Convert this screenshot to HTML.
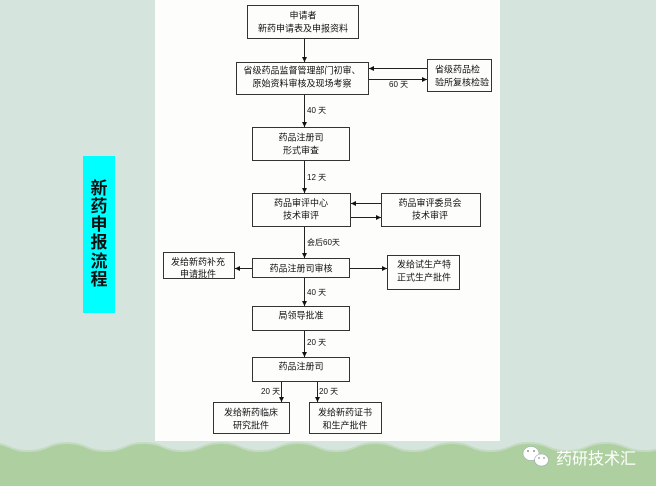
<!DOCTYPE html>
<html><head><meta charset="utf-8">
<style>
html,body{margin:0;padding:0;width:656px;height:486px;overflow:hidden;}
body{background:#d6e4de;}
svg{display:block;}
text{font-family:"Liberation Sans","Noto Sans CJK SC",sans-serif;fill:#111;}
.b{fill:none;stroke:#333;stroke-width:1;}
.l{stroke:#222;stroke-width:1;fill:none;}
.t{font-size:9px;}
.s{font-size:8px;}
</style></head>
<body>
<svg width="656" height="486" viewBox="0 0 656 486" xmlns="http://www.w3.org/2000/svg">
<defs>
<marker id="a" markerWidth="6" markerHeight="6" refX="5" refY="3" orient="auto" markerUnits="userSpaceOnUse">
<path d="M0,0.5 L5,3 L0,5.5 Z" fill="#111"/>
</marker>
</defs>
<rect width="656" height="486" fill="#d6e4de"/>
<!-- white panel -->
<rect x="155" y="0" width="345" height="441" fill="#fdfdfb"/>
<!-- wave band -->
<path d="M-10,442 C9,442 9.5,450 28.5,450 S48,442 67,442 S86.5,450 105.5,450 S125,442 144,442 S163.5,450 182.5,450 S202,442 221,442 S240.5,450 259.5,450 S279,442 298,442 S317.5,450 336.5,450 S356,442 375,442 S394.5,450 413.5,450 S433,442 452,442 S471.5,450 490.5,450 S510,442 529,442 S548.5,450 567.5,450 S587,442 606,442 S625.5,450 644.5,450 S664,442 683,442 L683,486 L-10,486 Z" fill="#c4dbc2"/>
<path d="M-10,444 C9,444 9.5,452 28.5,452 S48,444 67,444 S86.5,452 105.5,452 S125,444 144,444 S163.5,452 182.5,452 S202,444 221,444 S240.5,452 259.5,452 S279,444 298,444 S317.5,452 336.5,452 S356,444 375,444 S394.5,452 413.5,452 S433,444 452,444 S471.5,452 490.5,452 S510,444 529,444 S548.5,452 567.5,452 S587,444 606,444 S625.5,452 644.5,452 S664,444 683,444 L683,486 L-10,486 Z" fill="#aed0a0"/>

<!-- cyan title -->
<rect x="83" y="156" width="32" height="157" fill="#00ffff"/>
<g style="font-size:17px;font-weight:700;" text-anchor="middle">
<text x="99" y="194">新</text>
<text x="99" y="212">药</text>
<text x="99" y="230">申</text>
<text x="99" y="248">报</text>
<text x="99" y="267">流</text>
<text x="99" y="285">程</text>
</g>

<!-- boxes -->
<rect class="b" x="247.5" y="5.5" width="111" height="33"/>
<text class="t" x="303" y="18.5" text-anchor="middle">申请者</text>
<text class="t" x="303" y="31.5" text-anchor="middle">新药申请表及申报资料</text>

<rect class="b" x="236.5" y="62.5" width="132" height="32"/>
<text class="t" x="302" y="73.5" text-anchor="middle">省级药品监督管理部门初审、</text>
<text class="t" x="302" y="86.5" text-anchor="middle">原始资料审核及现场考察</text>

<rect class="b" x="427.5" y="59.5" width="64" height="32"/>
<text class="t" x="435" y="72.5">省级药品检</text>
<text class="t" x="435" y="85.5">验所复核检验</text>

<rect class="b" x="252.5" y="127.5" width="97" height="33"/>
<text class="t" x="301" y="140.5" text-anchor="middle">药品注册司</text>
<text class="t" x="301" y="153.5" text-anchor="middle">形式审查</text>

<rect class="b" x="252.5" y="193.5" width="98" height="33"/>
<text class="t" x="301" y="206" text-anchor="middle">药品审评中心</text>
<text class="t" x="301" y="218.5" text-anchor="middle">技术审评</text>

<rect class="b" x="381.5" y="193.5" width="99" height="33"/>
<text class="t" x="430" y="206" text-anchor="middle">药品审评委员会</text>
<text class="t" x="430" y="218.5" text-anchor="middle">技术审评</text>

<rect class="b" x="252.5" y="258.5" width="97" height="19"/>
<text class="t" x="301" y="271.5" text-anchor="middle">药品注册司审核</text>

<rect class="b" x="163.5" y="252.5" width="71" height="26"/>
<text class="t" x="198" y="265" text-anchor="middle">发给新药补充</text>
<text class="t" x="198" y="277" text-anchor="middle">申请批件</text>

<rect class="b" x="387.5" y="255.5" width="72" height="34"/>
<text class="t" x="397" y="267.5">发给试生产特</text>
<text class="t" x="397" y="280.5">正式生产批件</text>

<rect class="b" x="252.5" y="306.5" width="97" height="24"/>
<text class="t" x="301" y="318.5" text-anchor="middle">局领导批准</text>

<rect class="b" x="252.5" y="357.5" width="97" height="24"/>
<text class="t" x="301" y="369.5" text-anchor="middle">药品注册司</text>

<rect class="b" x="213.5" y="402.5" width="76" height="31"/>
<text class="t" x="251" y="415.5" text-anchor="middle">发给新药临床</text>
<text class="t" x="251" y="428.5" text-anchor="middle">研究批件</text>

<rect class="b" x="309.5" y="402.5" width="72" height="31"/>
<text class="t" x="345" y="415.5" text-anchor="middle">发给新药证书</text>
<text class="t" x="345" y="428.5" text-anchor="middle">和生产批件</text>

<!-- connectors -->
<line class="l" x1="304.5" y1="39" x2="304.5" y2="62" marker-end="url(#a)"/>
<line class="l" x1="427" y1="68.5" x2="369" y2="68.5" marker-end="url(#a)"/>
<line class="l" x1="369" y1="79.5" x2="427" y2="79.5" marker-end="url(#a)"/>
<text class="s" x="389" y="87">60 天</text>

<line class="l" x1="304.5" y1="95" x2="304.5" y2="127" marker-end="url(#a)"/>
<text class="s" x="307" y="113">40 天</text>

<line class="l" x1="304.5" y1="161" x2="304.5" y2="193" marker-end="url(#a)"/>
<text class="s" x="307" y="180">12 天</text>

<line class="l" x1="381" y1="203.5" x2="351" y2="203.5" marker-end="url(#a)"/>
<line class="l" x1="351" y1="217.5" x2="381" y2="217.5" marker-end="url(#a)"/>

<line class="l" x1="304.5" y1="227" x2="304.5" y2="258" marker-end="url(#a)"/>
<text class="s" x="307" y="245">会后60天</text>

<line class="l" x1="252" y1="268.5" x2="235" y2="268.5" marker-end="url(#a)"/>
<line class="l" x1="350" y1="268.5" x2="387" y2="268.5" marker-end="url(#a)"/>

<line class="l" x1="304.5" y1="278" x2="304.5" y2="306" marker-end="url(#a)"/>
<text class="s" x="307" y="295">40 天</text>

<line class="l" x1="304.5" y1="331" x2="304.5" y2="357" marker-end="url(#a)"/>
<text class="s" x="307" y="345">20 天</text>

<line class="l" x1="281.5" y1="382" x2="281.5" y2="402" marker-end="url(#a)"/>
<line class="l" x1="317.5" y1="382" x2="317.5" y2="402" marker-end="url(#a)"/>
<text class="s" x="261" y="394">20 天</text>
<text class="s" x="319" y="394">20 天</text>

<!-- watermark -->
<g>
<ellipse cx="531" cy="453.5" rx="8" ry="7" fill="#fff" stroke="#9aa" stroke-width="0.6"/>
<ellipse cx="541.5" cy="460" rx="7" ry="6" fill="#fff" stroke="#9aa" stroke-width="0.6"/>
<circle cx="528" cy="451" r="1" fill="#8a9a8a"/>
<circle cx="534" cy="451" r="1" fill="#8a9a8a"/>
<circle cx="539" cy="458" r="0.9" fill="#8a9a8a"/>
<circle cx="544" cy="458" r="0.9" fill="#8a9a8a"/>
<text x="556" y="464" style="font-size:16px;fill:#fff;">药研技术汇</text>
</g>
</svg>
</body></html>
